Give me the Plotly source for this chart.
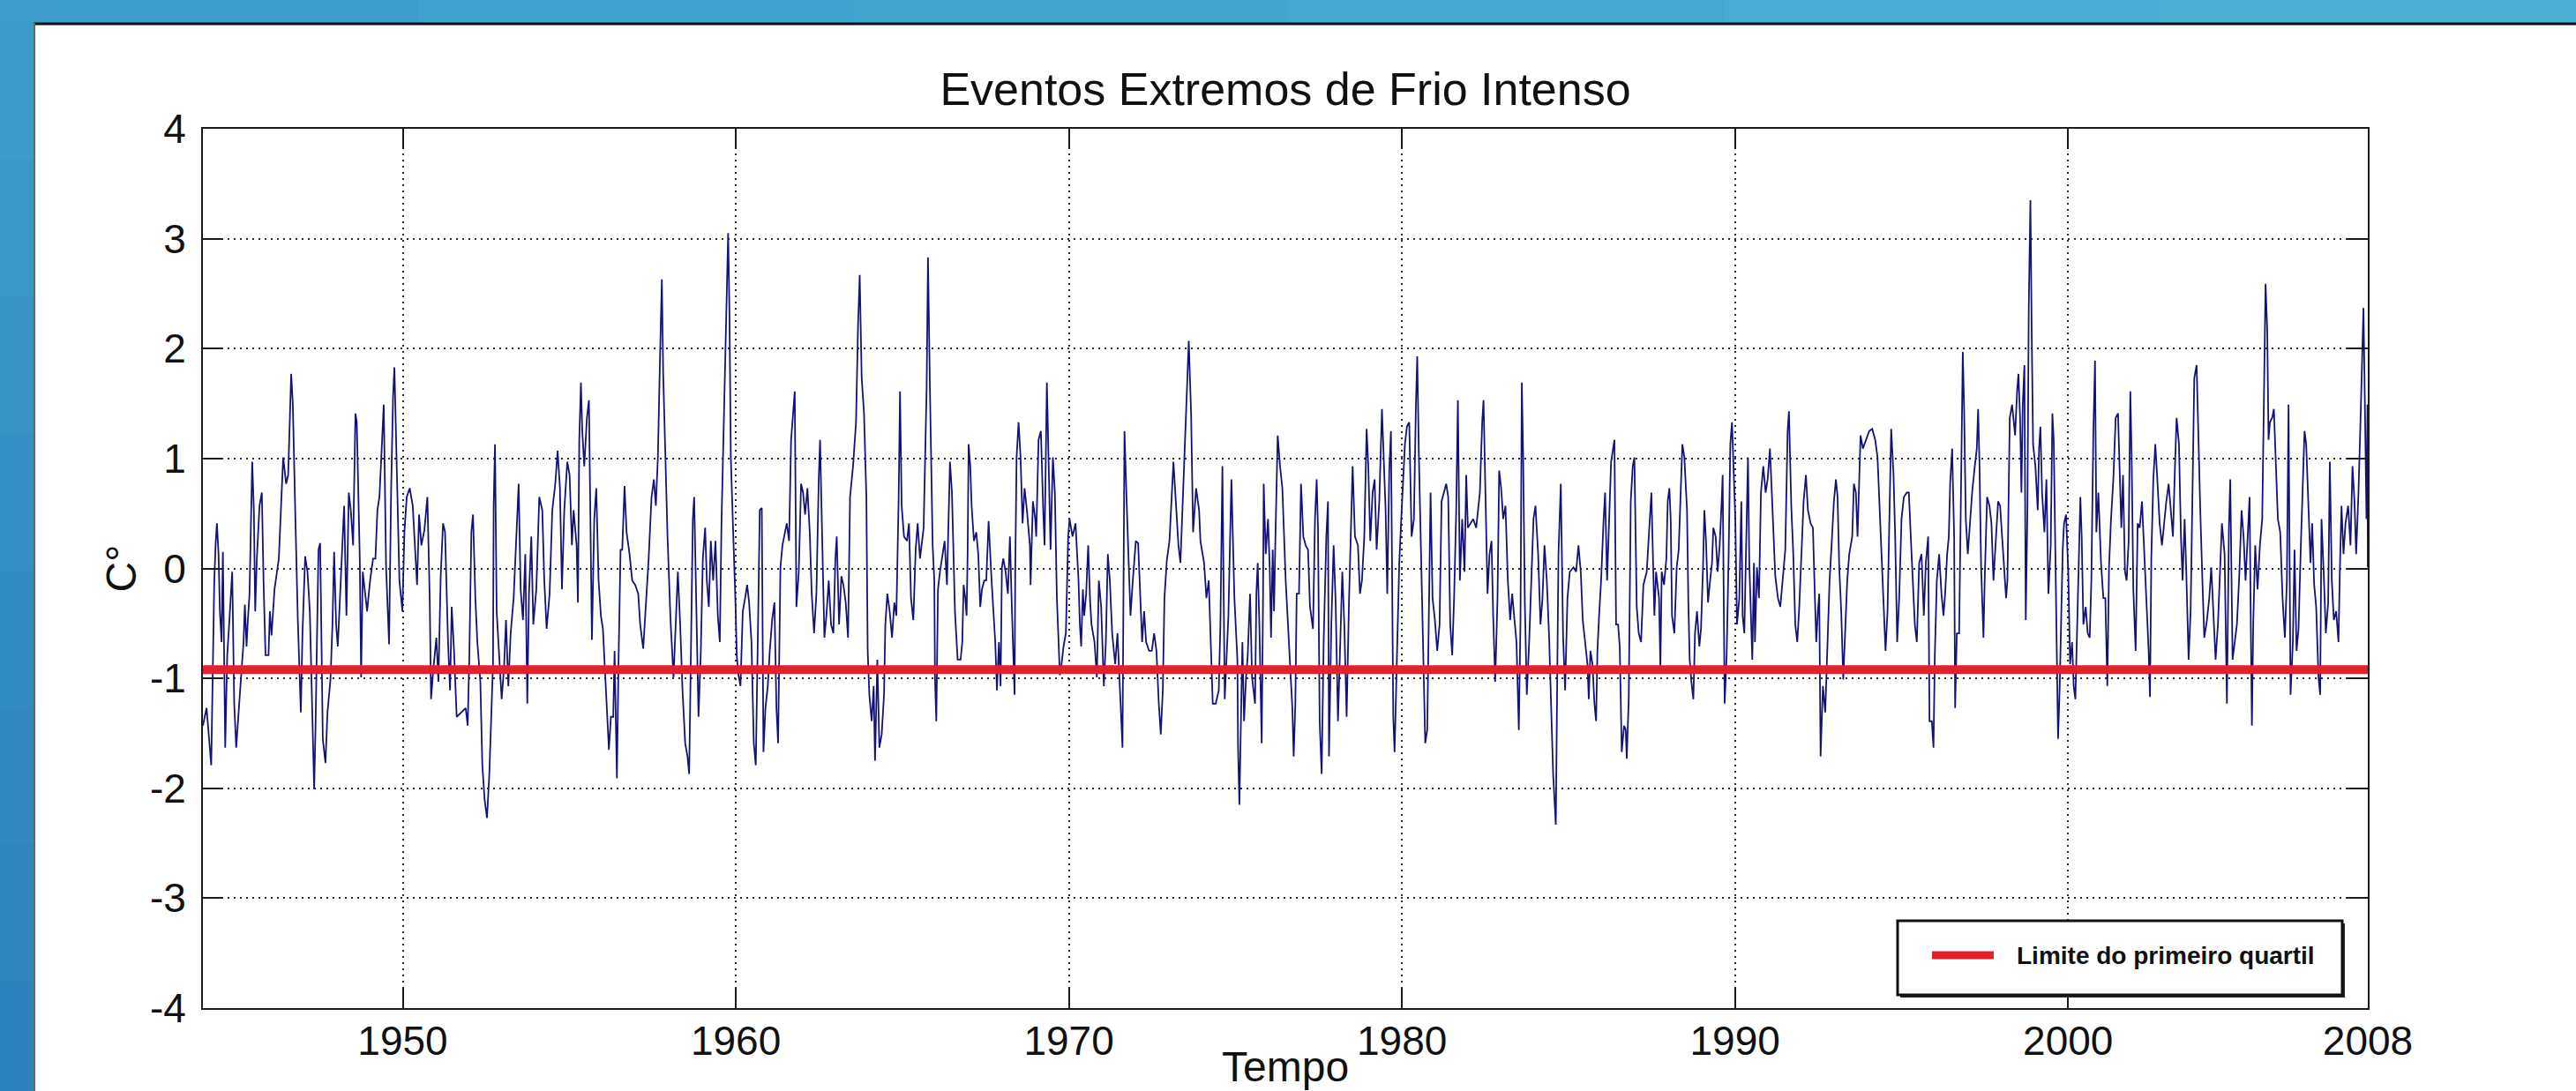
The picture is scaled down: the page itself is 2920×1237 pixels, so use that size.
import plotly.graph_objects as go

# ---------------- data ----------------
seg_1944 = [(1944.00,-1.43),(1944.11,-1.27),(1944.25,-1.79),(1944.29,-1.07),(1944.34,-0.13),(1944.38,0.21),(1944.42,0.41),(1944.47,0.13),(1944.51,-0.39),(1944.56,-0.67),(1944.60,0.15),(1944.67,-1.63),(1944.73,-0.79),(1944.78,-0.55),(1944.85,-0.23),(1944.88,-0.03),(1944.94,-1.23),(1945.00,-1.63),(1945.09,-1.23),(1945.22,-0.67),(1945.26,-0.33),(1945.31,-0.71),(1945.35,-0.47),(1945.40,-0.23),(1945.48,0.97),(1945.53,0.53),(1945.57,-0.39),(1945.62,0.09),(1945.70,0.57),(1945.77,0.69),(1945.82,-0.11),(1945.88,-0.79),(1945.97,-0.79),(1946.01,-0.39),(1946.06,-0.61),(1946.15,-0.19),(1946.28,0.09),(1946.35,0.65),(1946.41,1.01),(1946.50,0.77),(1946.56,0.85),(1946.65,1.77),(1946.70,1.49),(1946.77,0.55),(1946.85,-0.47),(1946.94,-1.31),(1946.99,-0.59),(1947.07,0.11),(1947.14,-0.03),(1947.21,-0.39),(1947.25,-0.83),(1947.34,-2.01),(1947.38,-1.47),(1947.43,-0.47),(1947.47,0.17),(1947.52,0.23),(1947.60,-1.55),(1947.68,-1.77),(1947.74,-1.31),(1947.83,-1.01),(1947.89,-0.51),(1947.94,0.15),(1948.00,-0.51),(1948.05,-0.71),(1948.12,-0.27),(1948.18,0.17),(1948.24,0.57),(1948.31,-0.43),(1948.38,0.69),(1948.44,0.53),(1948.51,0.21),(1948.58,1.41),(1948.62,1.33),(1948.71,0.09),(1948.75,-0.99),(1948.80,-0.03),(1948.86,-0.19),(1948.93,-0.39),(1949.02,-0.11),(1949.11,0.09),(1949.18,0.09),(1949.24,0.53),(1949.30,0.65),(1949.37,1.17),(1949.43,1.49),(1949.50,0.01),(1949.59,-0.69),(1949.65,0.69),(1949.71,1.57),(1949.75,1.83),(1949.80,1.25),(1949.86,0.53),(1949.90,-0.11),(1949.99,-0.39),(1950.05,0.33),(1950.12,0.65),(1950.21,0.73),(1950.30,0.57),(1950.39,0.05),(1950.43,-0.15),(1950.49,0.49),(1950.56,0.21),(1950.65,0.35),(1950.74,0.65),(1950.81,-0.27),(1950.85,-1.19),(1950.92,-0.91),(1951.01,-0.63),(1951.07,-1.03),(1951.14,-0.07),(1951.21,0.41),(1951.27,0.33),(1951.36,-0.67),(1951.42,-1.11),(1951.47,-0.35),(1951.54,-0.75),(1951.62,-1.35),(1951.76,-1.31),(1951.89,-1.27),(1951.95,-1.43),(1952.00,-0.79),(1952.06,0.33),(1952.11,0.49),(1952.18,-0.27),(1952.24,-0.67),(1952.33,-1.03),(1952.39,-1.79),(1952.46,-2.11),(1952.53,-2.27),(1952.60,-1.87),(1952.66,-1.35),(1952.71,-0.87),(1952.73,0.57),(1952.77,1.13),(1952.82,-0.39),(1952.90,-0.83),(1952.97,-1.19),(1953.04,-0.91),(1953.10,-0.47),(1953.17,-1.07),(1953.24,-0.59),(1953.33,-0.27),(1953.42,0.29),(1953.48,0.77),(1953.54,-0.19),(1953.61,-0.47),(1953.68,0.13),(1953.74,-1.23),(1953.79,-0.23),(1953.86,0.29),(1953.92,-0.51),(1954.01,-0.19),(1954.10,0.65),(1954.19,0.53),(1954.25,-0.11),(1954.32,-0.55),(1954.41,-0.23),(1954.49,0.53),(1954.58,0.77),(1954.65,1.07),(1954.72,0.73),(1954.78,-0.19),(1954.85,0.53),(1954.94,0.97),(1955.01,0.85)]

seg_1955 = [(1955.08,0.21),(1955.13,0.53),(1955.17,0.37),(1955.22,0.21),(1955.26,-0.31),(1955.30,1.17),(1955.35,1.69),(1955.39,1.25),(1955.45,0.93),(1955.53,1.37),(1955.59,1.53),(1955.64,0.49),(1955.68,-0.65),(1955.75,0.45),(1955.81,0.73),(1955.88,-0.11),(1955.95,-0.43),(1956.01,-0.55),(1956.10,-1.07),(1956.19,-1.65),(1956.25,-1.35),(1956.32,-1.35),(1956.36,-0.75),(1956.43,-1.91),(1956.48,-0.83),(1956.54,0.17),(1956.59,0.17),(1956.66,0.75),(1956.72,0.33),(1956.81,0.13),(1956.89,-0.11),(1956.98,-0.15),(1957.07,-0.23),(1957.13,-0.51),(1957.22,-0.73),(1957.29,-0.39),(1957.38,0.07),(1957.47,0.65),(1957.54,0.81),(1957.60,0.57),(1957.66,1.01),(1957.72,1.85),(1957.78,2.63),(1957.82,1.77),(1957.89,0.85),(1957.95,0.29),(1958.04,-0.47),(1958.13,-0.99),(1958.19,-0.55),(1958.26,-0.03),(1958.33,-0.51),(1958.40,-1.11),(1958.48,-1.59),(1958.55,-1.71),(1958.60,-1.87),(1958.66,-0.67),(1958.71,0.45),(1958.75,0.65),(1958.81,-0.31),(1958.88,-1.35),(1958.95,-0.75),(1959.01,0.09),(1959.08,0.37),(1959.13,-0.11),(1959.19,-0.35),(1959.25,0.25),(1959.32,-0.11),(1959.39,0.25),(1959.46,-0.43),(1959.52,-0.67),(1959.57,0.41),(1959.63,1.17),(1959.69,2.01),(1959.73,2.61),(1959.77,3.05),(1959.81,2.33),(1959.85,1.01),(1959.90,0.53),(1959.94,0.21),(1959.99,-0.31),(1960.03,-0.79),(1960.07,-0.95),(1960.14,-1.07),(1960.21,-0.39),(1960.28,-0.27),(1960.34,-0.15),(1960.40,-0.31),(1960.47,-0.67),(1960.54,-1.59),(1960.60,-1.79),(1960.67,-0.47),(1960.72,0.53),(1960.78,0.55),(1960.83,-1.67),(1960.89,-1.27),(1960.96,-1.07),(1961.02,-0.75),(1961.09,-0.47),(1961.16,-0.31),(1961.22,-1.27),(1961.27,-1.59),(1961.34,0.01),(1961.40,0.21),(1961.46,0.29),(1961.53,0.41),(1961.60,0.25),(1961.66,1.17),(1961.71,1.37),(1961.77,1.61),(1961.82,-0.35),(1961.89,-0.03),(1961.96,0.77),(1962.02,0.69),(1962.08,0.49),(1962.15,0.73),(1962.22,0.33),(1962.28,-0.23),(1962.35,-0.59),(1962.42,-0.23),(1962.49,0.81),(1962.53,1.17),(1962.59,0.33),(1962.66,-0.63),(1962.72,-0.43),(1962.79,-0.11),(1962.86,-0.51),(1962.93,-0.59),(1962.99,0.09),(1963.03,0.29),(1963.10,-0.51),(1963.17,-0.07),(1963.23,-0.15),(1963.30,-0.31),(1963.37,-0.63),(1963.43,0.65),(1963.52,0.93),(1963.61,1.33),(1963.67,2.21),(1963.72,2.67),(1963.78,1.73),(1963.85,1.41),(1963.92,0.65),(1963.96,-0.75),(1964.01,-1.15),(1964.08,-1.39),(1964.14,-1.07),(1964.18,-1.75),(1964.25,-0.83),(1964.31,-1.63),(1964.38,-1.51),(1964.45,-1.15),(1964.49,-0.51),(1964.55,-0.23),(1964.62,-0.39),(1964.69,-0.63),(1964.76,-0.31),(1964.82,-0.43),(1964.89,0.65),(1964.93,1.61),(1964.98,0.57),(1965.05,0.29),(1965.14,0.25),(1965.20,0.41),(1965.26,-0.27),(1965.33,-0.47),(1965.40,0.17),(1965.46,0.41),(1965.53,0.09),(1965.58,0.21),(1965.64,0.37),(1965.73,1.65),(1965.77,2.83),(1965.83,1.61)]

seg_1966 = [(1965.91,0.21),(1965.96,-0.11),(1965.98,-0.99),(1966.02,-1.39),(1966.07,-0.19),(1966.13,-0.03),(1966.22,0.13),(1966.27,0.25),(1966.34,-0.15),(1966.40,0.61),(1966.43,0.97),(1966.49,0.69),(1966.53,0.13),(1966.58,-0.39),(1966.66,-0.83),(1966.75,-0.83),(1966.80,-0.67),(1966.84,-0.15),(1966.89,-0.27),(1966.93,-0.43),(1966.96,0.13),(1966.99,1.13),(1967.04,0.93),(1967.08,0.57),(1967.15,0.25),(1967.22,0.33),(1967.28,0.13),(1967.34,-0.35),(1967.39,-0.19),(1967.46,-0.11),(1967.52,-0.11),(1967.59,0.43),(1967.68,-0.11),(1967.79,-0.67),(1967.84,-1.11),(1967.90,-0.67),(1967.95,-1.07),(1967.99,0.01),(1968.03,0.09),(1968.10,-0.03),(1968.17,-0.23),(1968.23,0.29),(1968.28,-0.27),(1968.37,-1.15),(1968.39,-0.03),(1968.43,1.01),(1968.49,1.33),(1968.55,1.01),(1968.61,0.41),(1968.67,0.73),(1968.74,0.53),(1968.83,0.21),(1968.85,-0.15),(1968.92,0.61),(1968.99,0.45),(1969.02,0.29),(1969.09,1.17),(1969.16,1.25),(1969.23,0.53),(1969.27,0.21),(1969.34,1.69),(1969.40,0.73),(1969.45,0.17),(1969.52,1.01),(1969.58,0.69),(1969.64,-0.27),(1969.73,-0.97),(1969.78,-0.87),(1969.84,-0.71),(1969.91,-0.59),(1969.98,0.29),(1970.02,0.45),(1970.11,0.29),(1970.20,0.41),(1970.29,-0.11),(1970.33,-0.51),(1970.37,-0.71),(1970.42,-0.19),(1970.46,-0.43),(1970.52,-0.23),(1970.58,0.21),(1970.64,-0.31),(1970.68,-0.51),(1970.77,-0.67),(1970.84,-0.99),(1970.90,-0.11),(1970.97,-0.35),(1971.05,-1.07),(1971.11,-0.67),(1971.17,0.13),(1971.23,-0.11),(1971.30,-0.59),(1971.39,-0.87),(1971.46,-0.59),(1971.52,-1.07),(1971.61,-1.63),(1971.64,-0.19),(1971.67,1.25),(1971.73,0.65),(1971.79,0.05),(1971.85,-0.43),(1971.92,-0.11),(1972.01,0.25),(1972.08,0.23),(1972.14,-0.23),(1972.20,-0.67),(1972.26,-0.39),(1972.32,-0.67),(1972.41,-0.75),(1972.49,-0.75),(1972.56,-0.59),(1972.63,-0.75),(1972.70,-1.23),(1972.76,-1.51),(1972.82,-1.11),(1972.87,-0.27),(1972.94,0.07),(1973.02,0.25),(1973.14,0.97),(1973.20,0.69),(1973.29,0.21),(1973.35,0.05),(1973.55,1.61),(1973.60,2.07),(1973.67,1.41),(1973.73,0.33),(1973.82,0.73),(1973.91,0.53),(1973.95,0.25),(1974.06,0.05),(1974.13,-0.27),(1974.20,-0.11),(1974.26,-0.67),(1974.32,-1.23),(1974.41,-1.23),(1974.50,-1.11),(1974.55,-0.51),(1974.61,0.93),(1974.68,-1.19),(1974.79,-0.43),(1974.88,0.81),(1974.97,-0.27),(1975.06,-0.83),(1975.08,-1.63),(1975.12,-2.15),(1975.17,-1.47),(1975.21,-0.67),(1975.26,-1.39),(1975.32,-0.99),(1975.37,-0.79),(1975.44,-0.23),(1975.50,-0.99),(1975.59,-1.23),(1975.63,-0.23),(1975.67,0.05),(1975.72,-0.51),(1975.79,-1.59),(1975.83,-0.27),(1975.85,0.77),(1975.91,0.13),(1975.98,0.45),(1976.03,0.01),(1976.07,-0.63),(1976.12,0.17),(1976.16,-0.39),(1976.20,0.25),(1976.27,1.21),(1976.34,0.93),(1976.41,0.73),(1976.51,-0.11),(1976.65,-0.99)]

seg_1977 = [(1976.71,-1.27),(1976.75,-1.71),(1976.80,-1.23),(1976.84,-0.23),(1976.91,-0.23),(1976.97,0.77),(1977.04,0.29),(1977.11,0.21),(1977.18,0.17),(1977.24,-0.35),(1977.33,-0.55),(1977.39,0.45),(1977.44,0.81),(1977.48,0.37),(1977.53,-1.39),(1977.59,-1.87),(1977.65,-0.67),(1977.73,0.29),(1977.78,0.61),(1977.81,-1.71),(1977.88,-0.51),(1977.95,0.21),(1978.01,-0.31),(1978.08,-1.39),(1978.15,-0.67),(1978.21,-0.03),(1978.27,-0.51),(1978.34,-1.35),(1978.41,-0.31),(1978.48,0.53),(1978.52,0.93),(1978.59,0.29),(1978.68,0.21),(1978.74,-0.23),(1978.80,-0.11),(1978.87,0.29),(1978.94,1.27),(1978.99,0.93),(1979.05,0.25),(1979.12,0.69),(1979.18,0.81),(1979.24,0.17),(1979.32,0.61),(1979.40,1.45),(1979.45,0.97),(1979.51,0.53),(1979.56,-0.23),(1979.62,0.89),(1979.67,1.25),(1979.74,-1.35),(1979.78,-1.67),(1979.85,-0.87),(1979.92,0.05),(1979.98,0.45),(1980.02,0.69),(1980.09,1.13),(1980.15,1.29),(1980.22,1.33),(1980.29,0.29),(1980.36,0.45),(1980.42,1.49),(1980.46,1.93),(1980.51,1.01),(1980.57,0.21),(1980.64,-0.67),(1980.70,-1.59),(1980.76,-1.47),(1980.82,-0.27),(1980.86,0.69),(1980.92,-0.27),(1980.99,-0.47),(1981.06,-0.75),(1981.13,-0.51),(1981.19,0.61),(1981.26,0.69),(1981.33,0.77),(1981.39,0.65),(1981.45,-0.51),(1981.51,-0.79),(1981.57,-0.23),(1981.63,0.53),(1981.68,1.53),(1981.74,-0.11),(1981.81,0.45),(1981.88,-0.03),(1981.93,0.85),(1981.98,0.37),(1982.05,0.41),(1982.14,0.45),(1982.23,0.37),(1982.34,0.69),(1982.41,1.33),(1982.45,1.53),(1982.51,0.65),(1982.57,-0.23),(1982.63,0.13),(1982.69,0.25),(1982.74,-0.43),(1982.80,-1.03),(1982.87,-0.27),(1982.92,0.89),(1982.98,0.73),(1983.04,0.45),(1983.11,0.57),(1983.18,-0.11),(1983.25,-0.47),(1983.31,-0.23),(1983.38,-0.47),(1983.44,-0.67),(1983.51,-1.47),(1983.56,-0.47),(1983.60,1.69),(1983.64,1.01),(1983.69,-0.31),(1983.75,-1.15),(1983.82,-0.67),(1983.89,-0.07),(1983.95,0.45),(1984.01,0.57),(1984.09,0.13),(1984.16,-0.51),(1984.22,-0.27),(1984.28,0.21),(1984.35,-0.11),(1984.42,-0.63),(1984.48,-1.35),(1984.54,-1.87),(1984.62,-2.33),(1984.66,-1.23),(1984.70,0.13),(1984.77,0.77),(1984.84,-0.63),(1984.90,-1.11),(1984.97,-0.27),(1985.04,-0.03),(1985.15,0.01),(1985.23,-0.03),(1985.30,0.21),(1985.37,-0.03),(1985.43,-0.47),(1985.50,-0.67),(1985.57,-0.87),(1985.61,-1.19),(1985.66,-0.75),(1985.72,-0.87),(1985.78,-1.23),(1985.83,-1.39),(1985.87,-0.75),(1985.92,-0.43),(1985.98,-0.11),(1986.05,0.41),(1986.10,0.69),(1986.16,-0.11),(1986.22,0.49),(1986.28,0.97),(1986.34,1.09),(1986.38,1.17),(1986.43,-0.51),(1986.49,-0.51),(1986.54,-0.71),(1986.60,-1.67),(1986.67,-1.43),(1986.72,-1.47),(1986.75,-1.73),(1986.81,-1.19),(1986.87,0.61),(1986.93,0.93),(1986.98,1.01),(1987.05,-0.35),(1987.11,-0.59),(1987.18,-0.67),(1987.25,-0.15),(1987.35,-0.03),(1987.49,0.69)]

seg_1988 = [(1987.54,0.13),(1987.58,-0.43),(1987.63,-0.03),(1987.67,-0.15),(1987.72,-0.27),(1987.76,-0.91),(1987.80,-0.03),(1987.87,-0.15),(1987.94,0.09),(1987.98,0.61),(1988.03,0.73),(1988.07,0.45),(1988.11,-0.43),(1988.18,-0.59),(1988.25,0.01),(1988.31,0.17),(1988.38,0.69),(1988.42,1.13),(1988.48,1.01),(1988.56,0.53),(1988.60,-0.31),(1988.64,-0.83),(1988.69,-1.03),(1988.75,-1.19),(1988.80,-0.59),(1988.86,-0.39),(1988.93,-0.71),(1988.98,-0.55),(1989.04,0.01),(1989.08,0.53),(1989.13,0.25),(1989.19,-0.31),(1989.24,-0.15),(1989.31,0.05),(1989.35,0.37),(1989.42,0.29),(1989.48,-0.03),(1989.54,0.21),(1989.60,0.61),(1989.63,0.85),(1989.69,-1.23),(1989.75,-0.79),(1989.81,0.13),(1989.86,1.13),(1989.91,1.33),(1989.95,0.93),(1990.01,0.45),(1990.06,-0.51),(1990.13,-0.27),(1990.19,0.61),(1990.23,-0.43),(1990.28,-0.59),(1990.32,-0.03),(1990.39,1.01),(1990.43,0.05),(1990.48,-0.47),(1990.52,-0.83),(1990.57,0.05),(1990.60,-0.67),(1990.66,0.01),(1990.72,-0.27),(1990.78,0.69),(1990.85,0.93),(1990.92,0.69),(1990.98,0.81),(1991.05,1.09),(1991.12,0.57),(1991.21,-0.07),(1991.29,-0.27),(1991.36,-0.35),(1991.43,-0.11),(1991.51,0.17),(1991.58,1.25),(1991.62,1.43),(1991.69,0.57),(1991.75,0.13),(1991.81,-0.51),(1991.87,-0.67),(1991.93,-0.35),(1992.00,0.13),(1992.06,0.61),(1992.13,0.85),(1992.19,0.53),(1992.27,0.41),(1992.34,0.37),(1992.40,-0.27),(1992.44,-0.67),(1992.49,-0.39),(1992.53,-0.23),(1992.57,-1.71),(1992.64,-1.07),(1992.71,-1.31),(1992.78,-0.75),(1992.84,-0.11),(1992.90,0.21),(1992.97,0.61),(1993.03,0.81),(1993.08,0.65),(1993.13,0.01),(1993.19,-0.39),(1993.25,-1.01),(1993.31,-0.55),(1993.37,-0.11),(1993.43,0.13),(1993.52,0.29),(1993.57,0.77),(1993.63,0.69),(1993.68,0.29),(1993.72,0.65),(1993.77,1.21),(1993.84,1.09),(1993.94,1.17),(1994.03,1.25),(1994.12,1.27),(1994.21,1.17),(1994.28,1.01),(1994.34,0.57),(1994.40,0.13),(1994.46,-0.35),(1994.52,-0.75),(1994.58,-0.39),(1994.63,0.33),(1994.69,1.27),(1994.76,0.85),(1994.81,0.29),(1994.87,-0.67),(1994.93,-0.27),(1995.00,0.45),(1995.07,0.65),(1995.16,0.69),(1995.22,0.69),(1995.29,0.21),(1995.34,-0.11),(1995.40,-0.51),(1995.46,-0.67),(1995.53,0.05),(1995.60,0.13),(1995.67,-0.43),(1995.73,0.05),(1995.80,0.29),(1995.84,-1.39),(1995.91,-1.39),(1995.96,-1.63),(1996.00,-0.79),(1996.06,-0.11),(1996.13,0.13),(1996.20,-0.23),(1996.26,-0.43),(1996.31,-0.23),(1996.37,0.13),(1996.42,0.29),(1996.46,0.77),(1996.52,1.09),(1996.58,0.29),(1996.61,-1.27),(1996.66,-0.59),(1996.73,-0.59),(1996.79,1.01),(1996.84,1.97),(1996.88,1.45),(1996.93,0.45),(1996.99,0.13),(1997.05,0.37),(1997.12,0.69),(1997.20,0.93),(1997.26,1.09),(1997.30,1.45),(1997.34,0.97),(1997.39,0.01),(1997.46,-0.63),(1997.50,-0.07),(1997.57,0.65),(1997.64,0.57),(1997.70,0.41),(1997.76,-0.11),(1997.83,0.21),(1997.90,0.61),(1997.96,0.57),(1998.03,0.21),(1998.08,0.05),(1998.14,-0.27),(1998.18,-0.11),(1998.25,1.37),(1998.32,1.49)]

seg_1998 = [(1998.41,1.21),(1998.47,1.61),(1998.51,1.77),(1998.56,1.37),(1998.60,0.69),(1998.64,1.49),(1998.69,1.85),(1998.73,-0.47),(1998.78,0.53),(1998.82,2.37),(1998.87,3.35),(1998.91,2.13),(1998.95,1.13),(1999.02,0.93),(1999.09,0.53),(1999.13,1.09),(1999.17,1.29),(1999.22,0.69),(1999.29,0.33),(1999.35,0.81),(1999.41,-0.23),(1999.48,0.21),(1999.53,1.41),(1999.57,1.17),(1999.64,-0.47),(1999.70,-1.55),(1999.75,-1.07),(1999.79,-0.47),(1999.84,0.17),(1999.88,0.41),(1999.94,0.49),(2000.01,-0.07),(2000.06,-0.87),(2000.12,-0.67),(2000.17,-1.07),(2000.22,-1.19),(2000.26,-0.67),(2000.32,0.21),(2000.37,0.65),(2000.41,0.29),(2000.46,-0.51),(2000.53,-0.35),(2000.59,-0.59),(2000.65,-0.63),(2000.70,-0.11),(2000.76,1.25),(2000.81,1.89),(2000.85,0.33),(2000.91,0.69),(2000.99,0.05),(2001.06,-0.27),(2001.12,-0.27),(2001.18,-1.07),(2001.23,0.01),(2001.29,0.45),(2001.36,0.81),(2001.43,1.37),(2001.50,1.41),(2001.56,0.81),(2001.60,0.37),(2001.65,0.85),(2001.71,-0.03),(2001.76,-0.11),(2001.82,0.25),(2001.87,1.61),(2001.91,1.01),(2001.96,-0.19),(2002.03,-0.75),(2002.09,0.41),(2002.15,0.37),(2002.22,0.61),(2002.29,0.13),(2002.35,-0.27),(2002.42,-0.75),(2002.46,-1.17),(2002.50,0.09),(2002.56,0.81),(2002.62,1.13),(2002.68,0.81),(2002.75,0.41),(2002.82,0.21),(2002.88,0.41),(2002.95,0.61),(2003.02,0.77),(2003.09,0.53),(2003.15,0.29),(2003.21,0.93),(2003.26,1.37),(2003.33,1.13),(2003.39,0.29),(2003.44,-0.11),(2003.50,0.45),(2003.55,-0.03),(2003.62,-0.83),(2003.68,-0.39),(2003.74,0.85),(2003.79,1.73),(2003.86,1.85),(2003.90,1.33),(2003.97,0.53),(2004.03,-0.07),(2004.09,-0.63),(2004.17,-0.47),(2004.24,-0.27),(2004.30,0.01),(2004.36,-0.43),(2004.43,-0.83),(2004.50,-0.51),(2004.56,-0.07),(2004.62,0.41),(2004.70,0.13),(2004.77,-1.23),(2004.83,0.37),(2004.87,0.81),(2004.94,-0.83),(2005.00,-0.67),(2005.07,-0.51),(2005.14,-0.07),(2005.21,0.53),(2005.27,0.29),(2005.33,-0.11),(2005.40,0.33),(2005.45,0.65),(2005.49,-0.59),(2005.52,-1.43),(2005.56,-0.51),(2005.62,0.21),(2005.69,-0.19),(2005.76,0.21),(2005.83,0.45),(2005.88,1.49),(2005.93,2.59),(2005.98,2.17),(2006.02,1.17),(2006.06,1.33),(2006.13,1.37),(2006.18,1.45),(2006.24,0.97),(2006.30,0.45),(2006.37,0.33),(2006.44,-0.27),(2006.51,-0.63),(2006.57,-0.11),(2006.62,1.49),(2006.68,-1.15),(2006.75,-0.67),(2006.80,0.17),(2006.86,-0.75),(2006.92,-0.55),(2006.99,0.21),(2007.06,0.93),(2007.10,1.25),(2007.15,1.13),(2007.21,0.61),(2007.28,0.05),(2007.33,0.41),(2007.39,-0.15),(2007.45,-0.35),(2007.52,-0.99),(2007.57,-1.15),(2007.61,0.45),(2007.68,-0.07),(2007.74,-0.59),(2007.81,-0.31),(2007.86,0.97),(2007.92,-0.11),(2007.98,-0.47),(2008.05,-0.39),(2008.12,-0.67),(2008.16,-0.03),(2008.21,0.57),(2008.27,0.13),(2008.33,0.41),(2008.41,0.57),(2008.48,0.21),(2008.54,0.93),(2008.60,0.61),(2008.65,0.13),(2008.72,0.69),(2008.78,1.33),(2008.83,2.01),(2008.87,2.37),(2008.92,1.33),(2008.96,0.45),(2008.99,1.49),(2009.00,0.01)]

quartile_limit = -0.92
x_span = [1944, 2009]
x_tick_vals = [1950, 1960, 1970, 1980, 1990, 2000, 2009]
x_tick_text = ["1950", "1960", "1970", "1980", "1990", "2000", "2008"]
y_tick_vals = [-4, -3, -2, -1, 0, 1, 2, 3, 4]
y_tick_text = ["-4", "-3", "-2", "-1", "0", "1", "2", "3", "4"]
title_text = "Eventos Extremos de Frio Intenso"
x_title = "Tempo"
y_title = "C°"
legend_label = "Limite do primeiro quartil"

segments = [seg_1944, seg_1955, seg_1966, seg_1977, seg_1988, seg_1998]
years = [p[0] for s in segments for p in s]
values = [p[1] for s in segments for p in s]

# ---------------- figure ----------------
W, H = 2920, 1237
L, R, T, B = 230, 236, 146, 94
PW, PH = W - L - R, H - T - B
FONT = "Liberation Sans, Arial, sans-serif"
PANEL_TOP, PANEL_LEFT = 26, 38


def px(xp):
    return (xp - L) / PW


def py(yp):
    return (H - B - yp) / PH


fig = go.Figure()
fig.add_trace(go.Scatter(x=years, y=values, mode="lines",
                         line=dict(color="#12127a", width=1.8),
                         showlegend=False, hoverinfo="skip"))
fig.add_trace(go.Scatter(x=x_span, y=[quartile_limit, quartile_limit], mode="lines",
                         line=dict(color="#e3212b", width=10),
                         name=legend_label, showlegend=False, hoverinfo="skip"))

axis_common = dict(
    showline=True, linecolor="#1a1a1a", linewidth=2, mirror="allticks",
    ticks="inside", ticklen=23, tickwidth=2, tickcolor="#1a1a1a",
    showgrid=True, gridcolor="#2a2a2a", gridwidth=1.5, griddash="2px,5px",
    zeroline=False, tickfont=dict(family=FONT, size=46, color="#111"),
)

fig.update_layout(
    width=W, height=H,
    margin=dict(l=L, r=R, t=T, b=B, autoexpand=False),
    paper_bgcolor="#3d9dca", plot_bgcolor="white",
    showlegend=False,
    title=dict(text=title_text, x=(L + PW / 2) / W, xanchor="center",
               y=1 - 101 / H, yanchor="middle", yref="container", xref="container",
               font=dict(family=FONT, size=52, color="#111")),
    xaxis=dict(range=x_span, tickmode="array", tickvals=x_tick_vals, ticktext=x_tick_text,
               ticklabelstandoff=-4, **axis_common),
    yaxis=dict(range=[-4, 4], tickmode="array", tickvals=y_tick_vals, ticktext=y_tick_text,
               ticklabelstandoff=8,
               title=dict(text=y_title, standoff=0, font=dict(family=FONT, size=48, color="#111")),
               **axis_common),
)

shapes = []
# blue slide frame: light gradient along the top band, darker gradient down the left band
top_cols = ["#3c9dca", "#3fa1cd", "#42a5cf", "#45a8d1", "#47abd3", "#4aaed5"]
for i, c in enumerate(top_cols):
    shapes.append(dict(type="rect", xref="paper", yref="paper",
                       x0=px(-20 + i * (W + 40) / len(top_cols)), x1=px(-20 + (i + 1) * (W + 40) / len(top_cols)),
                       y0=py(PANEL_TOP), y1=py(-20), fillcolor=c, line=dict(width=0), layer="below"))
left_cols = ["#3c9cc9", "#3a98c7", "#3794c5", "#3590c3", "#338cc1", "#3189bf", "#2f86bd", "#2d83bb"]
for i, c in enumerate(left_cols):
    shapes.append(dict(type="rect", xref="paper", yref="paper", x0=px(-20), x1=px(PANEL_LEFT),
                       y0=py(PANEL_TOP + (i + 1) * (H + 30 - PANEL_TOP) / len(left_cols)),
                       y1=py(PANEL_TOP + i * (H + 30 - PANEL_TOP) / len(left_cols)),
                       fillcolor=c, line=dict(width=0), layer="below"))
shapes += [
    # white slide panel
    dict(type="rect", xref="paper", yref="paper", x0=px(PANEL_LEFT), x1=px(W + 50), y0=py(H + 50), y1=py(PANEL_TOP),
         fillcolor="white", line=dict(width=0), layer="below"),
    # top edge line and left edge line of the panel
    dict(type="line", xref="paper", yref="paper", x0=px(PANEL_LEFT), x1=px(W + 50),
         y0=py(PANEL_TOP + 1), y1=py(PANEL_TOP + 1), line=dict(color="#111", width=3), layer="below"),
    dict(type="line", xref="paper", yref="paper", x0=px(PANEL_LEFT + 1), x1=px(PANEL_LEFT + 1),
         y0=py(H + 50), y1=py(PANEL_TOP), line=dict(color="#666", width=2), layer="below"),
    # legend box
    dict(type="rect", xref="paper", yref="paper", x0=px(2154), x1=px(2658), y0=py(1131), y1=py(1047),
         fillcolor="#222", line=dict(width=0)),
    dict(type="rect", xref="paper", yref="paper", x0=px(2151), x1=px(2655), y0=py(1128), y1=py(1044),
         fillcolor="white", line=dict(color="#111", width=3)),
    dict(type="line", xref="paper", yref="paper", x0=px(2190), x1=px(2260), y0=py(1083), y1=py(1083),
         line=dict(color="#e3212b", width=9)),
]
fig.update_layout(shapes=shapes)
fig.add_annotation(text="<b>" + legend_label + "</b>", xref="paper", yref="paper",
                   x=px(2284), y=py(1083), xanchor="left", yanchor="middle", showarrow=False,
                   font=dict(family=FONT, size=28, color="#111"))
# x-axis title, as low as possible while staying fully inside the page
fig.add_annotation(text=x_title, xref="paper", yref="paper",
                   x=0.5, y=py(1209), xanchor="center", yanchor="middle", showarrow=False,
                   font=dict(family=FONT, size=48, color="#111"))

fig.write_html("out.html", config={"displayModeBar": False},
               post_script="document.body.style.margin='0';document.body.style.overflow='hidden';")
